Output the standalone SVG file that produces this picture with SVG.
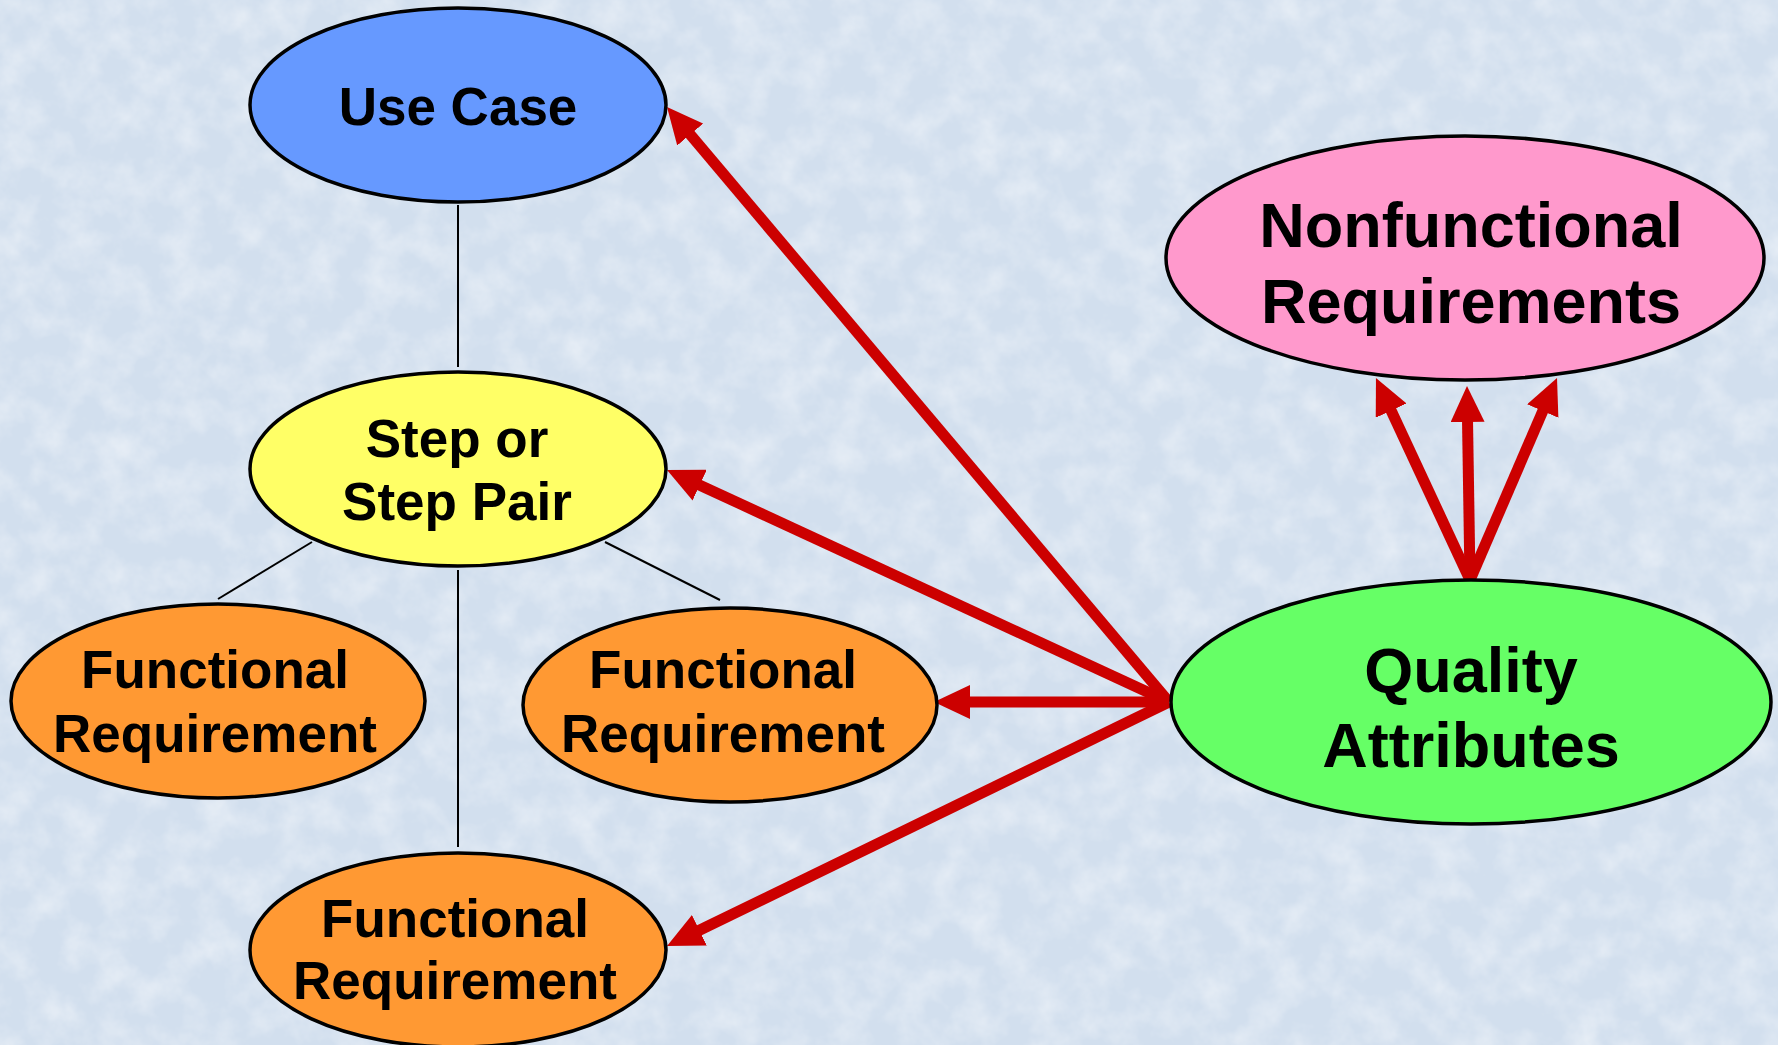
<svg xmlns="http://www.w3.org/2000/svg" width="1778" height="1045" viewBox="0 0 1778 1045">
  <style>
    .node { stroke: #000; stroke-width: 3.5; }
    .uc { fill: #6699FF; }
    .step { fill: #FFFF66; }
    .fr { fill: #FF9933; }
    .nfr { fill: #FF99CC; }
    .qa { fill: #66FF66; }
    .label { font-family: "Liberation Sans", Arial, sans-serif; font-weight: bold; fill: #000; text-anchor: middle; }
    .sm { font-size: 53px; }
    .lg { font-size: 63px; }
    .tree { stroke: #000; stroke-width: 2; fill: none; }
    .rel { stroke: #CC0000; stroke-width: 11; fill: none; marker-end: url(#head); }
  </style>
  <defs>
    <marker id="head" markerUnits="userSpaceOnUse" markerWidth="36" markerHeight="34" refX="16" refY="17" orient="auto">
      <path d="M0,0 L36,17 L0,34 Z" fill="#CC0000"/>
    </marker>
    <filter id="paper" x="0" y="0" width="100%" height="100%">
      <feTurbulence type="fractalNoise" baseFrequency="0.03" numOctaves="4" seed="7"/>
      <feColorMatrix type="matrix" values="0 0 0 0 1  0 0 0 0 1  0 0 0 0 1  0.8 0 0 0 -0.3"/>
    </filter>
  </defs>

  <!-- textured paper background -->
  <rect width="1778" height="1045" fill="#D2DFEE"/>
  <rect width="1778" height="1045" filter="url(#paper)"/>

  <g id="connectors">
    <!-- decomposition lines -->
    <line class="tree" x1="458" y1="205" x2="458" y2="367"/>
    <line class="tree" x1="312" y1="542" x2="218" y2="599"/>
    <line class="tree" x1="605" y1="542" x2="720" y2="600"/>
    <line class="tree" x1="458" y1="570" x2="458" y2="847"/>
    <!-- quality attribute relations -->
    <line class="rel" x1="1169" y1="702" x2="679.9" y2="122.3"/>
    <line class="rel" x1="1169" y1="702" x2="685.2" y2="478.4"/>
    <line class="rel" x1="1169" y1="702" x2="954" y2="702"/>
    <line class="rel" x1="1169" y1="702" x2="685" y2="937.3"/>
    <line class="rel" x1="1470" y1="580" x2="1384.4" y2="396.1"/>
    <line class="rel" x1="1470" y1="580" x2="1467.3" y2="406"/>
    <line class="rel" x1="1470" y1="580" x2="1549.1" y2="396.4"/>
  </g>

  <g id="use-case">
    <ellipse class="node uc" cx="458" cy="105" rx="208" ry="97"/>
    <text class="label sm" x="458" y="125">Use Case</text>
  </g>

  <g id="step">
    <ellipse class="node step" cx="458" cy="469" rx="208" ry="97"/>
    <text class="label sm" x="457" y="457">Step or</text>
    <text class="label sm" x="457" y="520">Step Pair</text>
  </g>

  <g id="functional-left">
    <ellipse class="node fr" cx="218" cy="701" rx="207" ry="97"/>
    <text class="label sm" x="215" y="688">Functional</text>
    <text class="label sm" x="215" y="752">Requirement</text>
  </g>

  <g id="functional-middle">
    <ellipse class="node fr" cx="730" cy="705" rx="207" ry="97"/>
    <text class="label sm" x="723" y="688">Functional</text>
    <text class="label sm" x="723" y="752">Requirement</text>
  </g>

  <g id="functional-bottom">
    <ellipse class="node fr" cx="458" cy="950" rx="208" ry="97"/>
    <text class="label sm" x="455" y="937">Functional</text>
    <text class="label sm" x="455" y="999">Requirement</text>
  </g>

  <g id="nonfunctional">
    <ellipse class="node nfr" cx="1465" cy="258" rx="299" ry="122"/>
    <text class="label lg" x="1471" y="247">Nonfunctional</text>
    <text class="label lg" x="1471" y="323">Requirements</text>
  </g>

  <g id="quality">
    <ellipse class="node qa" cx="1471" cy="702" rx="300" ry="122"/>
    <text class="label lg" x="1471" y="692">Quality</text>
    <text class="label lg" x="1471" y="767">Attributes</text>
  </g>
</svg>
